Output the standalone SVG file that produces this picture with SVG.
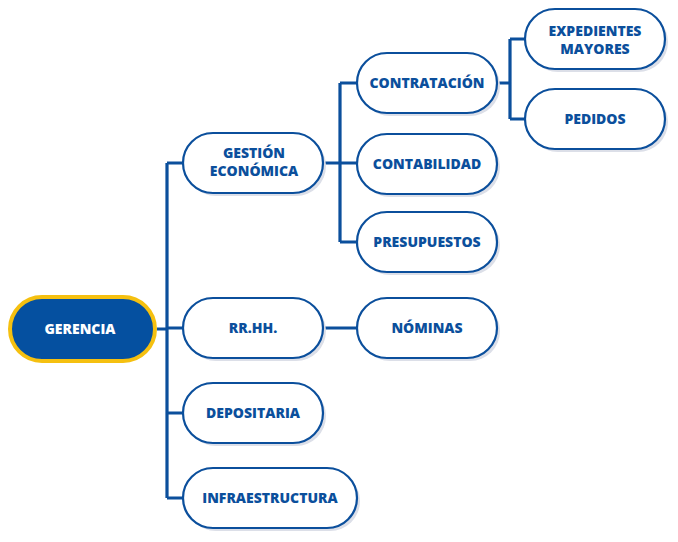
<svg xmlns="http://www.w3.org/2000/svg" width="678" height="542" viewBox="0 0 678 542">
<style>
.n{fill:#fff;stroke:#0b4f9c;stroke-width:2.2}
.sh{fill:#dcdfe8}
.t{font-family:"Open Sans","Noto Sans",sans-serif;font-weight:800;font-size:14px;fill:#0b4f9c;text-anchor:middle}
.c{fill:none;stroke:#0b4f9c;stroke-width:3.2}
</style>
<rect width="678" height="542" fill="#fff"/>
<g id="connectors">
<path class="c" d="M157 329H167M167 163V498M167 163H183M167 328H183M167 413H183M167 498H183"/>
<path class="c" d="M323 163H357M340 83V242M340 83H357M340 242H357"/>
<path class="c" d="M497 83H510M510 39V119M510 39H525M510 119H525"/>
<path class="c" d="M323 328H357"/>
</g>
<g id="gerencia">
<rect x="10" y="297" width="145" height="64" rx="32" fill="#0550a0" stroke="#f5c010" stroke-width="4"/>
<text class="t" x="80" y="334" style="fill:#fff">GERENCIA</text>
</g>
<g id="gestion">
<rect class="sh" x="186" y="136" width="140" height="60" rx="30"/>
<rect class="n" x="183" y="133" width="140" height="60" rx="30"/>
<text class="t" x="254" y="158">GESTIÓN</text>
<text class="t" x="254" y="176">ECONÓMICA</text>
</g>
<g id="contratacion">
<rect class="sh" x="360" y="56" width="140" height="60" rx="30"/>
<rect class="n" x="357" y="53" width="140" height="60" rx="30"/>
<text class="t" x="427" y="88">CONTRATACIÓN</text>
</g>
<g id="contabilidad">
<rect class="sh" x="360" y="137" width="140" height="60" rx="30"/>
<rect class="n" x="357" y="134" width="140" height="60" rx="30"/>
<text class="t" x="427" y="169">CONTABILIDAD</text>
</g>
<g id="presupuestos">
<rect class="sh" x="360" y="215" width="140" height="60" rx="30"/>
<rect class="n" x="357" y="212" width="140" height="60" rx="30"/>
<text class="t" x="427" y="247">PRESUPUESTOS</text>
</g>
<g id="expedientes">
<rect class="sh" x="528" y="12" width="140" height="60" rx="30"/>
<rect class="n" x="525" y="9" width="140" height="60" rx="30"/>
<text class="t" x="595" y="36">EXPEDIENTES</text>
<text class="t" x="595" y="54">MAYORES</text>
</g>
<g id="pedidos">
<rect class="sh" x="528" y="92" width="140" height="60" rx="30"/>
<rect class="n" x="525" y="89" width="140" height="60" rx="30"/>
<text class="t" x="595" y="124">PEDIDOS</text>
</g>
<g id="rrhh">
<rect class="sh" x="186" y="301" width="140" height="60" rx="30"/>
<rect class="n" x="183" y="298" width="140" height="60" rx="30"/>
<text class="t" x="253" y="333">RR.HH.</text>
</g>
<g id="nominas">
<rect class="sh" x="360" y="301" width="140" height="60" rx="30"/>
<rect class="n" x="357" y="298" width="140" height="60" rx="30"/>
<text class="t" x="427" y="333">NÓMINAS</text>
</g>
<g id="depositaria">
<rect class="sh" x="186" y="386" width="140" height="60" rx="30"/>
<rect class="n" x="183" y="383" width="140" height="60" rx="30"/>
<text class="t" x="253" y="418">DEPOSITARIA</text>
</g>
<g id="infraestructura">
<rect class="sh" x="186" y="471" width="174" height="60" rx="30"/>
<rect class="n" x="183" y="468" width="174" height="60" rx="30"/>
<text class="t" x="270" y="503">INFRAESTRUCTURA</text>
</g>
</svg>
